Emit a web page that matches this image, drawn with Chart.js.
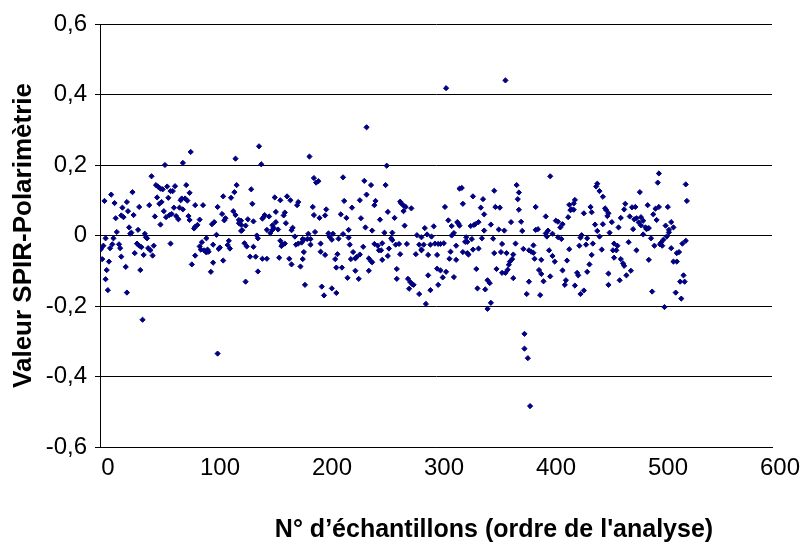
<!DOCTYPE html>
<html>
<head>
<meta charset="utf-8">
<script src="https://cdn.jsdelivr.net/npm/chart.js@4"></script>
<style>
  html, body { margin: 0; padding: 0; background: #ffffff; }
  canvas { display: block; }
</style>
</head>
<body>
<canvas id="c" width="806" height="544"></canvas>
<script>
// ---- data: [sample number, SPIR - polarimetry difference] ----
const samples001to075 = [[58,.2],[74,.206],[46,.168],[50,.143],[52,.138],[54,.133],[56,.131],[60,.139],[63,.126],[65,.126],[67,.14],[10,.116],[4,.098],[13,.092],[29,.123],[24,.095],[20,.079],[14,.049],[19,.057],[21,.052],[25,.069],[30,.058],[35,.081],[44,.086],[51,.108],[53,.09],[55,.095],[49,.054],[57,.069],[61,.107],[54,.031],[66,.079],[59,.052],[62,.058],[64,.061],[68,.055],[70,.046],[71,.079],[72,.1],[73,.105],[74,.074],[26,.023],[15,.01],[28,.008],[27,.005],[34,.016],[40,.005],[41,-.005],[42,-.008],[5,-.008],[12,-.008],[3,-.029],[1,-.038],[11,-.025],[9,-.036],[17,-.025],[18,-.036],[33,-.023],[35,-.029],[37,-.033],[48,-.029],[43,-.036],[45,-.042],[63,-.023],[2,-.067],[19,-.06],[31,-.05],[39,-.055],[47,-.057],[8,-.074],[6,-.098],[23,-.089],[36,-.098],[5,-.124],[7,-.155],[24,-.162],[38,-.239]];
const samples076to150 = [[81,.237],[142,.253],[121,.218],[144,.202],[77,.143],[80,.121],[122,.143],[120,.123],[135,.131],[76,.105],[78,.099],[110,.111],[117,.107],[85,.086],[92,.086],[105,.081],[136,.09],[119,.069],[121,.058],[109,.061],[112,.049],[111,.043],[79,.055],[80,.044],[89,.045],[84,.02],[85,.025],[87,.03],[100,.032],[102,.038],[124,.044],[126,.042],[124,.035],[126,.03],[132,.046],[137,.04],[130,.028],[127,.015],[126,.013],[145,.048],[147,.058],[146,.052],[149,.016],[104,.002],[140,0],[141,-.008],[95,-.008],[91,-.019],[89,-.031],[90,-.04],[93,-.042],[96,-.04],[95,-.048],[97,-.046],[101,-.026],[106,-.038],[107,-.034],[114,-.027],[115,-.015],[116,-.037],[129,-.022],[131,-.031],[137,-.032],[85,-.057],[82,-.082],[101,-.077],[110,-.071],[99,-.103],[134,-.06],[139,-.06],[145,-.066],[149,-.066],[141,-.102],[130,-.131],[105,-.335]];
const samples151to225 = [[187,.224],[191,.163],[193,.15],[195,.154],[217,.165],[156,.108],[161,.1],[167,.111],[170,.1],[177,.095],[176,.086],[218,.098],[190,.081],[202,.074],[157,.067],[165,.065],[164,.057],[191,.058],[196,.05],[201,.057],[215,.06],[220,.05],[151,.054],[157,.038],[154,.029],[155,.022],[166,.035],[172,.022],[171,.015],[152,.007],[154,.016],[159,.017],[222,.016],[225,.079],[186,.005],[192,.01],[204,.006],[208,.005],[217,.004],[174,-.003],[181,-.01],[182,-.012],[185,-.01],[188,-.01],[205,-.004],[207,-.012],[213,-.009],[222,-.006],[161,-.015],[163,-.025],[162,-.03],[165,-.023],[175,-.026],[177,-.023],[180,-.02],[188,-.026],[197,-.023],[223,-.026],[182,-.047],[197,-.046],[201,-.055],[212,-.053],[160,-.063],[169,-.066],[181,-.067],[171,-.082],[179,-.088],[210,-.067],[211,-.091],[216,-.091],[221,-.12],[224,-.067],[183,-.14],[198,-.145],[200,-.17],[207,-.15],[211,-.163]];
const samples226to300 = [[256,.198],[236,.155],[242,.143],[255,.143],[238,.116],[232,.1],[246,.098],[245,.086],[268,.096],[269,.091],[271,.085],[273,.081],[278,.077],[257,.067],[271,.069],[233,.049],[250,.045],[263,.05],[237,.023],[243,.014],[272,.028],[254,.008],[261,.008],[290,.021],[298,.026],[283,.001],[287,-.005],[292,.003],[296,-.003],[260,-.008],[261,-.013],[264,-.026],[267,-.024],[274,-.024],[252,-.022],[245,-.024],[248,-.029],[251,-.042],[249,-.042],[235,-.032],[258,-.037],[285,-.026],[289,-.026],[287,-.04],[295,-.026],[299,-.023],[226,-.047],[229,-.061],[232,-.054],[228,-.065],[240,-.065],[242,-.073],[243,-.076],[252,-.069],[257,-.058],[268,-.053],[282,-.053],[293,-.055],[287,-.042],[228,-.1],[231,-.123],[240,-.1],[265,-.095],[265,-.123],[275,-.123],[277,-.132],[279,-.139],[280,-.14],[276,-.151],[293,-.113],[295,-.155],[285,-.166],[291,-.194],[238,.307]];
const samples301to375 = [[321,.133],[323,.135],[372,.143],[374,.122],[352,.127],[333,.111],[342,.103],[373,.103],[324,.09],[308,.081],[340,.079],[353,.081],[357,.079],[374,.073],[343,.06],[311,.043],[319,.038],[320,.034],[321,.028],[314,.027],[331,.027],[334,.03],[335,.032],[338,.038],[349,.031],[367,.038],[343,.014],[356,.017],[361,.014],[316,.007],[314,0],[327,-.005],[332,-.01],[341,-.008],[351,-.009],[326,-.018],[328,-.018],[302,-.024],[304,-.024],[307,-.022],[318,-.029],[359,-.024],[371,-.023],[333,-.04],[338,-.037],[324,-.047],[328,-.05],[329,-.054],[313,-.046],[352,-.05],[358,-.047],[363,-.05],[369,-.054],[368,-.067],[366,-.074],[365,-.083],[301,-.055],[312,-.066],[318,-.069],[301,-.094],[304,-.099],[309,-.103],[336,-.095],[354,-.095],[359,-.106],[362,-.106],[364,-.097],[306,-.119],[316,-.118],[369,-.121],[302,-.14],[346,-.127],[348,-.135],[337,-.15],[344,-.153],[349,-.191],[346,-.208],[309,.418],[362,.44]];
const samples376to450 = [[402,.168],[444,.147],[443,.139],[446,.126],[449,.11],[419,.087],[423,.091],[424,.101],[421,.074],[420,.072],[423,.073],[389,.081],[438,.081],[439,.066],[432,.063],[398,.054],[418,.052],[407,.042],[409,.039],[376,.039],[413,.032],[411,.023],[442,.031],[377,.013],[389,.016],[391,.018],[398,.006],[400,.014],[399,-.003],[404,.005],[444,.013],[449,.032],[409,-.005],[412,-.01],[430,.001],[429,-.006],[435,-.008],[446,-.003],[434,-.026],[440,-.023],[428,-.029],[387,-.028],[378,-.038],[383,-.042],[385,-.046],[387,-.049],[401,-.042],[419,-.039],[448,-.04],[404,-.058],[406,-.074],[388,-.066],[394,-.069],[439,-.055],[437,-.082],[417,-.071],[413,-.099],[392,-.098],[394,-.109],[396,-.13],[402,-.116],[426,-.106],[427,-.113],[435,-.103],[416,-.127],[415,-.14],[424,-.142],[383,-.131],[381,-.166],[393,-.169],[432,-.156],[429,-.166],[379,-.279],[379,-.321],[382,-.348],[384,-.484]];
const samples451to525 = [[499,.176],[498,.15],[523,.145],[524,.098],[482,.123],[451,.077],[452,.072],[454,.063],[453,.055],[469,.09],[468,.074],[475,.08],[478,.081],[489,.086],[496,.076],[499,.081],[507,.081],[494,.06],[497,.044],[465,.05],[473,.054],[477,.046],[479,.049],[481,.037],[483,.052],[485,.042],[483,.029],[487,.023],[489,.02],[490,.021],[488,.018],[457,.038],[463,.023],[455,.008],[476,.018],[485,.003],[505,.028],[510,.038],[512,.023],[508,.016],[508,.009],[506,-.003],[503,-.012],[492,-.008],[501,-.02],[502,-.029],[500,-.025],[495,-.029],[523,-.015],[520,-.023],[459,-.023],[462,-.029],[458,-.042],[461,-.042],[472,-.019],[479,-.042],[510,-.036],[515,-.05],[517,-.047],[459,-.063],[465,-.067],[467,-.079],[468,-.086],[490,-.069],[512,-.074],[515,-.074],[474,-.1],[470,-.113],[454,-.108],[454,-.14],[464,-.127],[521,-.113],[518,-.131],[522,-.131],[493,-.159],[514,-.162],[519,-.179],[504,-.203]];

const xTickLabels = ['0', '100', '200', '300', '400', '500', '600'];
const yTickLabels = ['-0,6', '-0,4', '-0,2', '0', '0,2', '0,4', '0,6'];
const xTitle = "N° d’échantillons (ordre de l'analyse)";
const yTitle = 'Valeur SPIR-Polarimètrie';

// ---- build ----
const allSamples = [].concat(samples001to075, samples076to150, samples151to225,
  samples226to300, samples301to375, samples376to450, samples451to525);
const points = allSamples.map(p => ({ x: p[0], y: p[1] }));

const FONT = '"Liberation Sans", Arial, Helvetica, sans-serif';

const xTitlePlugin = {
  id: 'xTitlePlugin',
  afterDraw(chart) {
    const ctx = chart.ctx;
    ctx.save();
    ctx.font = 'bold 25px ' + FONT;
    ctx.fillStyle = '#000';
    ctx.textAlign = 'center';
    ctx.textBaseline = 'alphabetic';
    ctx.fillText(xTitle, 494, 537);
    ctx.restore();
  }
};

new Chart(document.getElementById('c'), {
  type: 'scatter',
  data: {
    datasets: [{
      data: points,
      pointStyle: 'rectRot',
      pointRadius: 2.6,
      pointBorderWidth: 1,
      backgroundColor: '#000080',
      borderColor: '#000080',
      showLine: false
    }]
  },
  options: {
    responsive: false,
    animation: false,
    devicePixelRatio: 1,
    layout: { padding: { left: 0, top: 24, right: 34, bottom: 0 } },
    plugins: {
      legend: { display: false },
      tooltip: { enabled: false },
      title: { display: false }
    },
    scales: {
      x: {
        type: 'linear',
        min: 0,
        max: 600,
        afterFit(scale) { scale.height = 97; },
        ticks: {
          stepSize: 100,
          color: '#000',
          font: { family: FONT, size: 24 },
          padding: 7,
          labelOffset: 8,
          maxRotation: 0,
          callback: (v, i) => xTickLabels[i]
        },
        grid: { display: false, drawTicks: false },
        border: { display: true, color: '#000', width: 1 }
      },
      y: {
        type: 'linear',
        min: -0.6,
        max: 0.6,
        afterFit(scale) { scale.width = 100; },
        ticks: {
          stepSize: 0.2,
          color: '#000',
          font: { family: FONT, size: 24 },
          padding: 8,
          callback: (v, i) => yTickLabels[i]
        },
        grid: {
          display: true,
          color: '#000',
          lineWidth: 1,
          drawTicks: true,
          tickLength: 5,
          tickColor: '#000'
        },
        border: { display: true, color: '#000', width: 1 },
        title: {
          display: true,
          text: yTitle,
          color: '#000',
          font: { family: FONT, size: 26, weight: 'bold' },
          padding: { top: 8, bottom: 0 }
        }
      }
    }
  },
  plugins: [xTitlePlugin]
});
</script>
</body>
</html>
